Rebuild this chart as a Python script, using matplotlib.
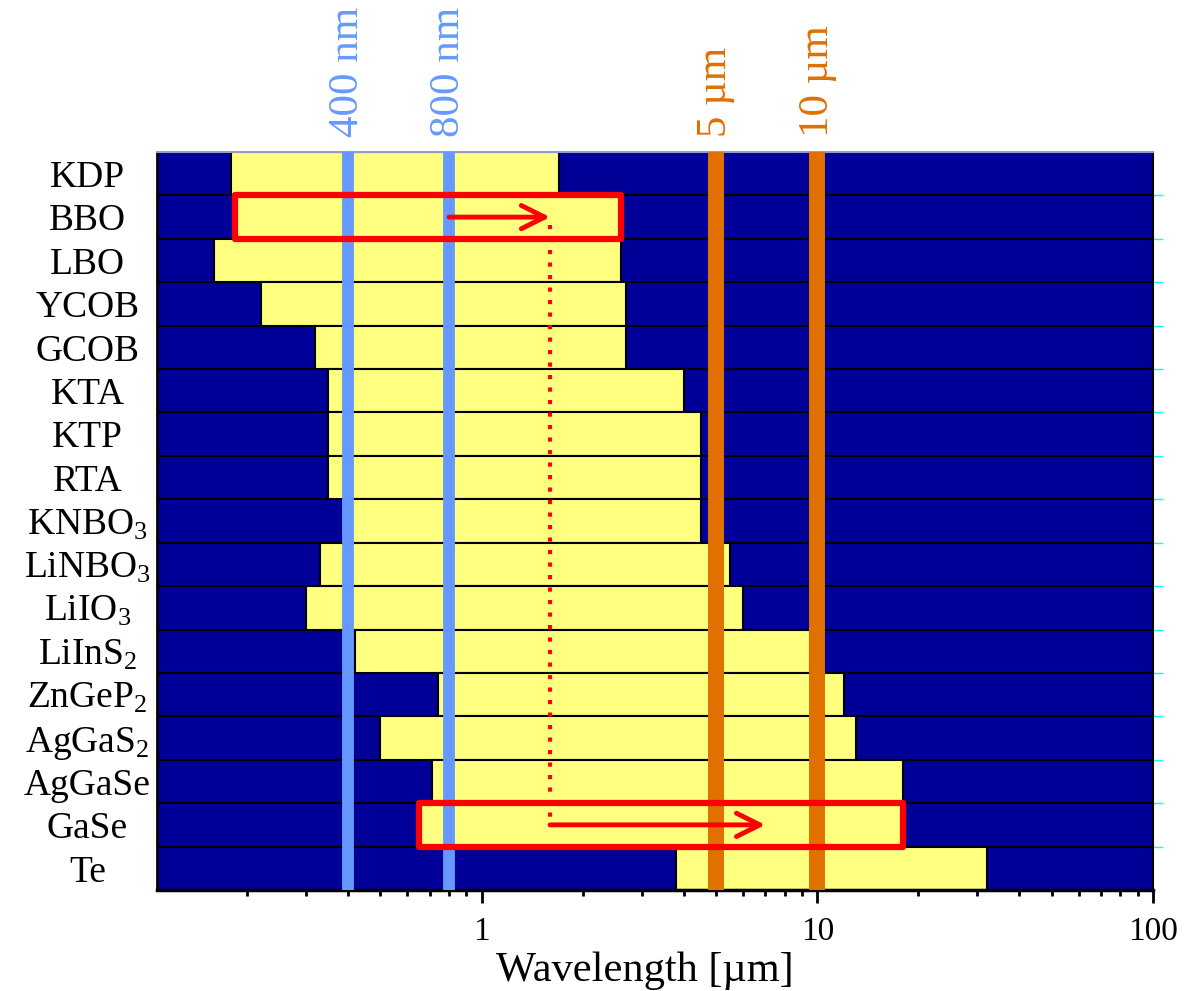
import matplotlib.pyplot as plt
from matplotlib.patches import Rectangle
import numpy as np

plt.rcParams['font.family'] = ['Liberation Serif', 'DejaVu Serif']
plt.rcParams['mathtext.fontset'] = 'custom'
plt.rcParams['mathtext.rm'] = 'Liberation Serif'
plt.rcParams['mathtext.it'] = 'Liberation Serif'
plt.rcParams['mathtext.default'] = 'regular'

# transparency windows of nonlinear crystals, in micrometres
crystals = ['KDP', 'BBO', 'LBO', 'YCOB', 'GCOB', 'KTA', 'KTP', 'RTA',
            'KNBO$_3$', 'LiNBO$_3$', 'LiIO$_3$', 'LiInS$_2$', 'ZnGeP$_2$',
            'AgGaS$_2$', 'AgGaSe', 'GaSe', 'Te']
rangeStart = [0.18, 0.185, 0.16, 0.22, 0.32, 0.35, 0.35, 0.35, 0.40, 0.33,
              0.30, 0.42, 0.74, 0.50, 0.71, 0.65, 3.8]
rangeEnd = [1.7, 2.6, 2.6, 2.7, 2.7, 4.0, 4.5, 4.5, 4.5, 5.5, 6.0, 9.5, 12,
            13, 18, 18, 32]

visLines = [0.4, 0.8]
visLabels = ['400 nm', '800 nm']
irLines = [5, 10]
irLabels = ['5 µm', '10 µm']

# 800 nm -> 1.6 um in BBO, then 1.6 um -> 7 um in GaSe
pumpWl = 0.8
signalWl = 1.6
idlerWl = 7.0
stageRows = ['BBO', 'GaSe']

xMin, xMax = 0.108, 100
navy = '#000099'
yellow = '#FFFF80'

fig = plt.figure(figsize=(11.91, 9.91), dpi=100)
ax = fig.add_axes([157/1191, 1 - 890/991, 996/1191, 738/991])

n = len(crystals)
rows = np.arange(n)
start = np.array(rangeStart)
end = np.array(rangeEnd)

ax.barh(rows, xMax - xMin, left=xMin, height=1.0, color=navy,
        edgecolor='black', linewidth=1.5, zorder=1)
ax.barh(rows, end - start, left=start, height=1.0, color=yellow,
        edgecolor='black', linewidth=1.5, zorder=1.5)

ax.set_xscale('log')
ax.set_xlim(xMin, xMax)
ax.set_ylim(n - 0.5, -0.5)

for x, lbl in zip(visLines, visLabels):
    ax.axvline(x, color='#6699FF', lw=8.5, zorder=3)
    ax.annotate(lbl, xy=(x, 1), xycoords=('data', 'axes fraction'),
                xytext=(0, 11), textcoords='offset points', rotation=90,
                ha='center', va='bottom', color='#6699FF', fontsize=31,
                annotation_clip=False)
for x, lbl in zip(irLines, irLabels):
    ax.axvline(x, color='#E07000', lw=11.5, zorder=3)
    ax.annotate(lbl, xy=(x, 1), xycoords=('data', 'axes fraction'),
                xytext=(0, 11), textcoords='offset points', rotation=90,
                ha='center', va='bottom', color='#E07000', fontsize=31,
                annotation_clip=False)

# outline the two crystals used in the conversion chain
for name in stageRows:
    i = crystals.index(name)
    ax.add_patch(Rectangle((start[i], i - 0.5), end[i] - start[i], 1.0,
                           fill=False, edgecolor='red', lw=4.5,
                           joinstyle='round', zorder=4))

bboRow = crystals.index('BBO')
gaseRow = crystals.index('GaSe')
arrowStyle = dict(arrowstyle='->', color='red', lw=3.5, mutation_scale=42,
                  shrinkA=0, shrinkB=0)
ax.annotate('', xy=(signalWl, bboRow), xytext=(pumpWl, bboRow),
            arrowprops=arrowStyle, zorder=5)
ax.annotate('', xy=(idlerWl, gaseRow), xytext=(signalWl, gaseRow),
            arrowprops=arrowStyle, zorder=5)
ax.plot([signalWl, signalWl], [bboRow + 0.18, gaseRow], color='red', lw=3,
        linestyle=(0, (1, 2)), zorder=5)

ax.set_yticks(rows)
ax.set_yticklabels(crystals, ha='center')
ax.tick_params(axis='y', which='major', length=0, pad=50, labelsize=27)
ax.set_yticks(rows[:-1] + 0.5, minor=True)
ax.tick_params(axis='y', which='minor', left=False, right=True,
               direction='out', length=7, width=1, color='#00FFFF')

ax.set_xticks([1, 10, 100])
ax.set_xticklabels(['1', '10', '100'])
ax.tick_params(axis='x', which='major', length=9, width=2, labelsize=24,
               pad=10, direction='out')
ax.tick_params(axis='x', which='minor', length=4.5, width=2,
               direction='out')
ax.set_xlabel('Wavelength [µm]', fontsize=30.5, labelpad=3, x=0.49)

ax.spines['left'].set_linewidth(2)
ax.spines['bottom'].set_linewidth(2.5)
ax.spines['right'].set_linewidth(1.5)
ax.spines['top'].set_linewidth(1.5)
ax.spines['top'].set_color('#9999CC')

plt.savefig('out.png', dpi=100)
